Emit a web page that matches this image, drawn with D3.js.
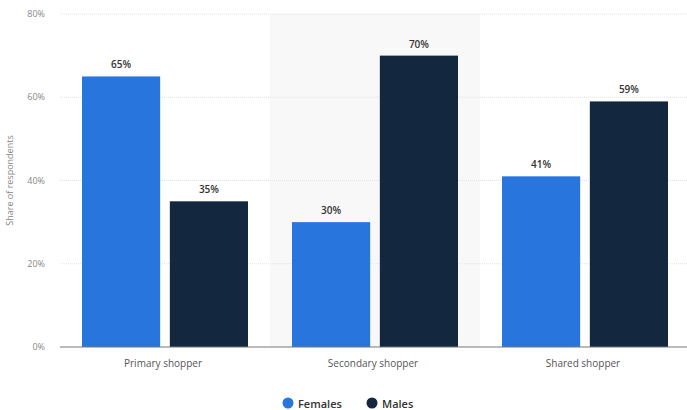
<!DOCTYPE html>
<html>
<head>
<meta charset="utf-8">
<script src="https://cdn.jsdelivr.net/npm/d3@7"></script>
<style>
  body { margin: 0; background: #fff; overflow: hidden; }
  text { font-family: "Open Sans", "DejaVu Sans", Arial, sans-serif; }
</style>
</head>
<body>
<div id="chart"></div>
<script>
// chart data
const categories = ['Primary shopper', 'Secondary shopper', 'Shared shopper'];
const seriesNames = ['Females', 'Males'];
const females = [65, 30, 41];
const males = [35, 70, 59];
const yTicks = [0, 20, 40, 60, 80];

const colors = { Females: '#2876dd', Males: '#13273f' };

const width = 687, height = 410;
const margin = { top: 14, bottom: 63, left: 60 };

const svg = d3.select('#chart').append('svg')
  .attr('width', width)
  .attr('height', height);

// groups are 210px wide, last one runs past the right edge a little
const x0 = d3.scaleBand()
  .domain(categories)
  .range([margin.left, margin.left + 630]);

const x1 = d3.scaleBand()
  .domain(seriesNames)
  .range([22, x0.bandwidth() - 22])
  .paddingInner(0.11);

const y = d3.scaleLinear()
  .domain([0, 80])
  .range([height - margin.bottom, margin.top]);

// shaded band behind the middle group
svg.append('rect')
  .attr('x', x0(categories[1]))
  .attr('y', y(80))
  .attr('width', x0.bandwidth())
  .attr('height', y(0) - y(80))
  .attr('fill', '#f8f8f8');

// grid lines
svg.append('g')
  .selectAll('line')
  .data(yTicks.filter(d => d > 0))
  .enter().append('line')
  .attr('x1', margin.left)
  .attr('x2', width)
  .attr('y1', d => y(d))
  .attr('y2', d => y(d))
  .attr('stroke', '#e2e2e2')
  .attr('stroke-dasharray', '1,1');

// y tick labels
svg.append('g')
  .selectAll('text')
  .data(yTicks)
  .enter().append('text')
  .attr('x', 45)
  .attr('y', d => y(d) + 3)
  .attr('text-anchor', 'end')
  .attr('font-size', 9)
  .attr('fill', '#888')
  .text(d => d + '%');

// y axis title
svg.append('text')
  .attr('transform', `translate(13, ${y(40)}) rotate(-90)`)
  .attr('text-anchor', 'middle')
  .attr('font-size', 9)
  .attr('fill', '#888')
  .text('Share of respondents');

const rows = categories.map((c, i) => ({ category: c, Females: females[i], Males: males[i] }));

const groups = svg.append('g')
  .selectAll('g')
  .data(rows)
  .enter().append('g')
  .attr('transform', d => `translate(${x0(d.category)},0)`);

groups.selectAll('rect')
  .data(d => seriesNames.map(s => ({ key: s, value: d[s] })))
  .enter().append('rect')
  .attr('x', d => x1(d.key))
  .attr('y', d => y(d.value))
  .attr('width', x1.bandwidth())
  .attr('height', d => y(0) - y(d.value))
  .attr('fill', d => colors[d.key]);

groups.selectAll('text.value')
  .data(d => seriesNames.map(s => ({ key: s, value: d[s] })))
  .enter().append('text')
  .attr('class', 'value')
  .attr('x', d => x1(d.key) + x1.bandwidth() / 2)
  .attr('y', d => y(d.value) - 8)
  .attr('text-anchor', 'middle')
  .attr('font-size', 10)
  .attr('font-weight', 600)
  .attr('fill', '#333')
  .text(d => d.value + '%');

// baseline
svg.append('line')
  .attr('x1', margin.left)
  .attr('x2', width)
  .attr('y1', y(0))
  .attr('y2', y(0))
  .attr('stroke', '#777')
  .attr('stroke-width', 1);

// category labels
svg.append('g')
  .selectAll('text')
  .data(categories)
  .enter().append('text')
  .attr('x', d => x0(d) + x0.bandwidth() / 2 - 2)
  .attr('y', y(0) + 20)
  .attr('text-anchor', 'middle')
  .attr('font-size', 10)
  .attr('fill', '#555')
  .text(d => d);

// legend
const legend = svg.append('g');
const legendX = [288, 372];
seriesNames.forEach((s, i) => {
  legend.append('circle')
    .attr('cx', legendX[i])
    .attr('cy', 403)
    .attr('r', 5.5)
    .attr('fill', colors[s]);
  legend.append('text')
    .attr('x', legendX[i] + 10)
    .attr('y', 407.5)
    .attr('font-size', 11)
    .attr('font-weight', 600)
    .attr('fill', '#333')
    .text(s);
});
</script>
</body>
</html>
